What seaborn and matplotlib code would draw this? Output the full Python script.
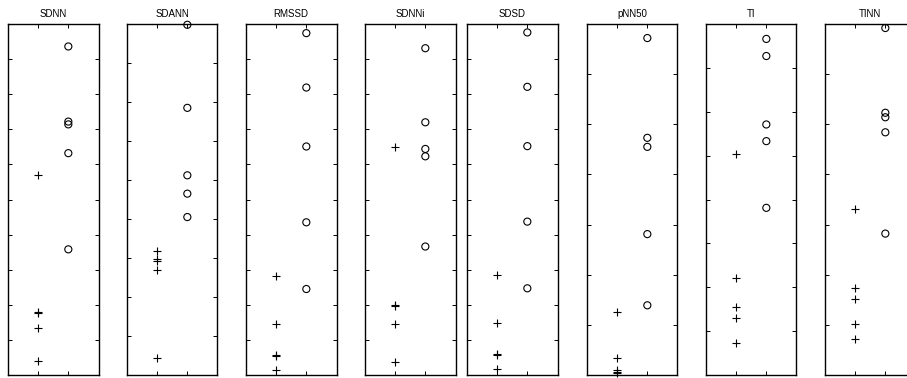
import matplotlib
matplotlib.use("Agg")
import matplotlib.pyplot as plt
import seaborn as sns
import pandas as pd

# panel titles and y extent (number of tick intervals) per panel
titles = ["SDNN", "SDANN", "RMSSD", "SDNNi", "SDSD", "pNN50", "TI", "TINN"]
y_top = [10, 9, 10, 10, 10, 7, 8, 7]

# values, in tick units (group 1 = "+", group 2 = "o")
sdnn_plus = [5.71, 1.80, 1.78, 1.33, 0.39]
sdnn_circ = [9.36, 7.22, 7.14, 6.32, 3.58]
sdann_plus = [3.18, 2.97, 2.93, 2.69, 0.44]
sdann_circ = [8.98, 6.85, 5.12, 4.65, 4.05]
rmssd_plus = [2.82, 1.44, 0.57, 0.55, 0.14]
rmssd_circ = [9.74, 8.19, 6.51, 4.35, 2.45]
sdnni_plus = [6.49, 2.00, 1.98, 1.44, 0.38]
sdnni_circ = [9.31, 7.20, 6.44, 6.23, 3.66]
sdsd_plus = [2.85, 1.47, 0.59, 0.57, 0.17]
sdsd_circ = [9.76, 8.21, 6.52, 4.37, 2.47]
pnn50_plus = [1.26, 0.34, 0.09, 0.06, 0.03]
pnn50_circ = [6.72, 4.73, 4.55, 2.81, 1.39]
ti_plus = [5.04, 2.22, 1.54, 1.30, 0.72]
ti_circ = [7.66, 7.27, 5.71, 5.33, 3.81]
tinn_plus = [3.32, 1.73, 1.52, 1.01, 0.72]
tinn_circ = [6.92, 5.23, 5.14, 4.84, 2.82]

plus_series = [sdnn_plus, sdann_plus, rmssd_plus, sdnni_plus,
               sdsd_plus, pnn50_plus, ti_plus, tinn_plus]
circ_series = [sdnn_circ, sdann_circ, rmssd_circ, sdnni_circ,
               sdsd_circ, pnn50_circ, ti_circ, tinn_circ]

# left edges of the panels in pixels
lefts_px = [8, 127, 246, 365, 467, 587, 706, 825]

sns.set_theme(style="ticks")
plt.rcParams["font.family"] = ["Liberation Sans", "DejaVu Sans"]

W, H = 907, 378
fig = plt.figure(figsize=(W / 100, H / 100), dpi=100)

for i, title in enumerate(titles):
    ax = fig.add_axes([lefts_px[i] / W, 3 / H, 90.5 / W, 351 / H])
    dp = pd.DataFrame({"x": [1] * len(plus_series[i]), "y": plus_series[i]})
    dc = pd.DataFrame({"x": [2] * len(circ_series[i]), "y": circ_series[i]})
    sns.scatterplot(data=dp, x="x", y="y", marker="+", color="black",
                    s=30, linewidth=0.8, ax=ax, clip_on=False)
    sns.scatterplot(data=dc, x="x", y="y", marker="o", facecolor="none",
                    edgecolor="black", s=26, linewidth=0.8, ax=ax, clip_on=False)
    ax.set_xlim(0, 3)
    ax.set_ylim(0, y_top[i])
    ax.set_xticks([1, 2])
    ax.set_yticks(range(0, y_top[i] + 1))
    ax.set_xticklabels([])
    ax.set_yticklabels([])
    ax.set_xlabel("")
    ax.set_ylabel("")
    ax.tick_params(direction="in", length=3, width=0.7, color="black",
                   top=True, right=True, bottom=True, left=True)
    for sp in ax.spines.values():
        sp.set_visible(True)
        sp.set_linewidth(1.0)
        sp.set_color("black")
    ax.set_title(title, fontsize=7, pad=5, color="black")

fig.savefig("out.png", dpi=100, facecolor="white")
